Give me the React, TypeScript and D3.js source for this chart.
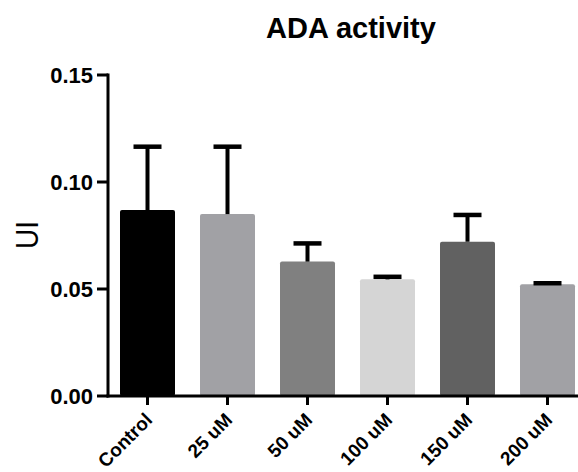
import React from 'react';
import * as d3 from 'd3';

const groups = ['Control', '25 uM', '50 uM', '100 uM', '150 uM', '200 uM'];
const means = [0.0869, 0.085, 0.0628, 0.0545, 0.0721, 0.0522];
const errors = [0.0296, 0.0315, 0.0085, 0.0012, 0.0125, 0.0005];
const barColors = ['#000000', '#a1a1a5', '#808080', '#d5d5d5', '#616161', '#a1a1a5'];
const yTicks = [0, 0.05, 0.1, 0.15];

const W = 578;
const H = 472;
const axisX = 108;
const axisY = 396;

const App = () => {
  const y = d3.scaleLinear().domain([0, 0.15]).range([axisY, 75]);
  const x = d3.scaleBand<string>()
    .domain(groups)
    .range([axisX, axisX + 80 * 5.9875])
    .paddingInner(0.3125)
    .paddingOuter(0.15);
  const bw = x.bandwidth();
  const font = 'Arial, "Liberation Sans", sans-serif';

  return (
    <div style={{ position: 'absolute', left: 0, top: 0 }}>
      <svg width={W} height={H} style={{ display: 'block' }} fontFamily={font}>
        <rect width={W} height={H} fill="#fff" />
        <text x={351} y={38} textAnchor="middle" fontSize={29} fontWeight="bold">
          ADA activity
        </text>
        <text
          transform={`translate(38,235) rotate(-90) scale(1,1.12)`}
          textAnchor="middle"
          fontSize={28}
        >
          UI
        </text>

        {groups.map((g, i) => {
          const cx = (x(g) as number) + bw / 2;
          const top = y(means[i]);
          const errTop = y(means[i] + errors[i]);
          return (
            <g key={g}>
              <rect
                x={x(g)}
                y={top}
                width={bw}
                height={axisY - top}
                fill={barColors[i]}
                rx={2}
              />
              <line x1={cx} x2={cx} y1={top} y2={errTop} stroke="#000" strokeWidth={4} />
              <line x1={cx - 14} x2={cx + 14} y1={errTop} y2={errTop} stroke="#000" strokeWidth={4.5} />
            </g>
          );
        })}

        {/* y axis */}
        <line x1={axisX} x2={axisX} y1={y(0.15) - 1.5} y2={axisY + 1.5} stroke="#000" strokeWidth={3} />
        {yTicks.map((t) => (
          <g key={t}>
            <line x1={axisX - 11} x2={axisX} y1={y(t)} y2={y(t)} stroke="#000" strokeWidth={3} />
            <text
              x={axisX - 15}
              y={y(t)}
              dy="0.35em"
              textAnchor="end"
              fontSize={22}
              fontWeight="bold"
            >
              {d3.format('.2f')(t)}
            </text>
          </g>
        ))}

        {/* x axis */}
        <line x1={axisX - 1.5} x2={W} y1={axisY} y2={axisY} stroke="#000" strokeWidth={3} />
        {groups.map((g) => {
          const cx = (x(g) as number) + bw / 2;
          return (
            <g key={g}>
              <line x1={cx} x2={cx} y1={axisY} y2={axisY + 9} stroke="#000" strokeWidth={3} />
              <text
                transform={`translate(${cx + 6},${axisY + 25}) rotate(-45)`}
                textAnchor="end"
                fontSize={19}
                fontWeight="bold"
              >
                {g}
              </text>
            </g>
          );
        })}
      </svg>
    </div>
  );
};

export default App;
